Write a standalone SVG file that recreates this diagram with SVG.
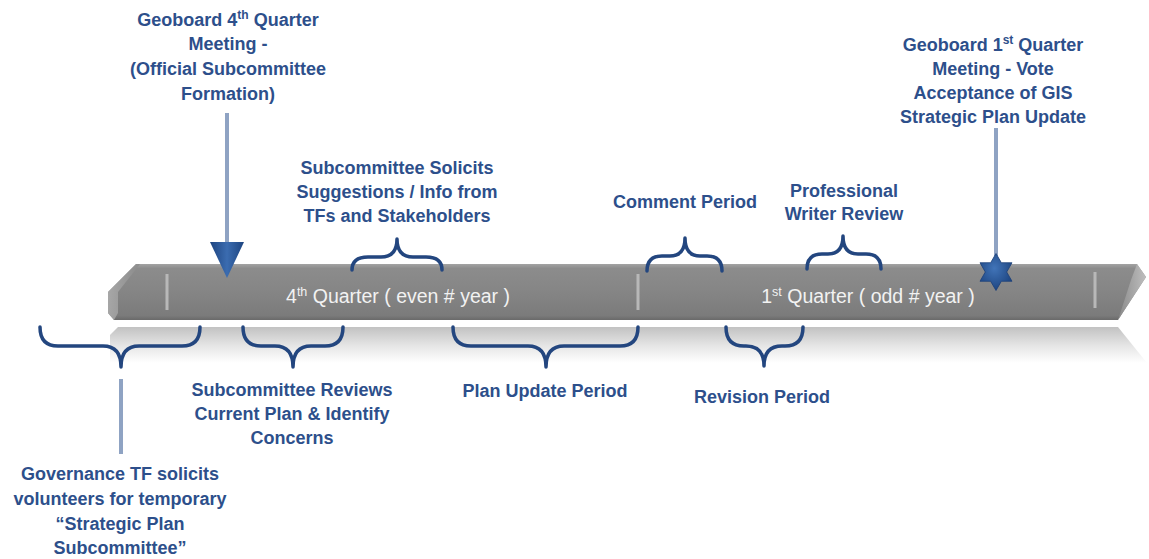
<svg xmlns="http://www.w3.org/2000/svg" width="1149" height="559" viewBox="0 0 1149 559">
<defs>
<linearGradient id="barG" x1="0" y1="0" x2="0" y2="1">
<stop offset="0" stop-color="#a3a3a3"/>
<stop offset="0.08" stop-color="#8c8c8c"/>
<stop offset="0.5" stop-color="#858585"/>
<stop offset="0.92" stop-color="#7b7b7b"/>
<stop offset="1" stop-color="#6a6a6a"/>
</linearGradient>
<linearGradient id="refG" x1="0" y1="0" x2="0" y2="1">
<stop offset="0" stop-color="#c2c2c2"/>
<stop offset="0.5" stop-color="#e4e4e4"/>
<stop offset="1" stop-color="#ffffff"/>
</linearGradient>
<linearGradient id="facetL" x1="0" y1="0" x2="1" y2="0">
<stop offset="0" stop-color="#b0b0b0"/>
<stop offset="1" stop-color="#8a8a8a"/>
</linearGradient>
<linearGradient id="facetR" x1="0" y1="0" x2="1" y2="0">
<stop offset="0" stop-color="#8c8c8c"/>
<stop offset="1" stop-color="#c4c4c4"/>
</linearGradient>
<linearGradient id="blueG" x1="0" y1="0" x2="1" y2="0">
<stop offset="0" stop-color="#1d4480"/>
<stop offset="0.5" stop-color="#3b6cb0"/>
<stop offset="1" stop-color="#1d4480"/>
</linearGradient>
<radialGradient id="starG" cx="0.45" cy="0.4" r="0.6">
<stop offset="0" stop-color="#4174b8"/>
<stop offset="1" stop-color="#1e4682"/>
</radialGradient>
</defs>
<style>
.lbl{font-family:"Liberation Sans",Arial,sans-serif;font-weight:bold;font-size:18px;fill:#2d4f8b;text-anchor:middle}
.bar{font-family:"Liberation Sans",Arial,sans-serif;font-size:19.5px;fill:#f2f2f2;text-anchor:middle}
.brace{fill:none;stroke:#23467f;stroke-width:3.5;stroke-linecap:round;stroke-linejoin:round}
.lead{stroke:#8fa3c3;stroke-width:4;fill:none}
.tick{stroke:#b8b8b8;stroke-width:3}
</style>

<g id="timeline">
<polygon points="118,327 1118,327 1147,363 110,363 110,335" fill="url(#refG)"/>
<path d="M136,264 L1137,264 L1146,277 L1118,320 L114,320 L108,313 L108,292 Z" fill="url(#barG)"/>
<polygon points="108,292 136,264 140,264 118,292 118,313 114,320 108,313" fill="url(#facetL)" opacity="0.8"/>
<polygon points="1137,264 1146,277 1118,320 1131,280" fill="url(#facetR)" opacity="0.9"/>
<line class="tick" x1="167" y1="274" x2="167" y2="310"/>
<line class="tick" x1="638" y1="274" x2="638" y2="310"/>
<line class="tick" x1="1095" y1="272" x2="1095" y2="308"/>
<text class="bar" x="398" y="303">4<tspan font-size="12.5" dy="-7">th</tspan><tspan dy="7"> Quarter ( even # year )</tspan></text>
<text class="bar" x="868" y="303">1<tspan font-size="12.5" dy="-7">st</tspan><tspan dy="7"> Quarter ( odd # year )</tspan></text>
</g>

<g id="connectors">
<line class="lead" x1="227" y1="113" x2="227" y2="244"/>
<line class="lead" x1="996" y1="128" x2="996" y2="256"/>
<line class="lead" x1="121" y1="379" x2="121" y2="454"/>
<path class="brace" d="M352,270 Q352,257 368,257 L381,257 Q397,257 397,239 Q397,257 413,257 L426,257 Q442,257 442,270"/>
<path class="brace" d="M647,271 Q647,256 662,256 L670,256 Q685,256 685,238 Q685,256 700,256 L707,256 Q722,256 722,271"/>
<path class="brace" d="M807,269 Q807,254 822,254 L828,254 Q843,254 843,236 Q843,254 858,254 L866,254 Q881,254 881,269"/>
<path class="brace" d="M40,327 Q40,346 58,346 L103,346 Q121,346 121,367 Q121,346 139,346 L182,346 Q200,346 200,327"/>
<path class="brace" d="M243,327 Q243,346 261,346 L275,346 Q293,346 293,367 Q293,346 311,346 L325,346 Q343,346 343,327"/>
<path class="brace" d="M453,327 Q453,346 471,346 L528,346 Q546,346 546,367 Q546,346 564,346 L620,346 Q638,346 638,327"/>
<path class="brace" d="M726,327 Q726,346 744,346 L746,346 Q764,346 764,366 Q764,346 782,346 L785,346 Q803,346 803,327"/>
</g>

<g id="arrow-q4">
<polygon points="210,242 244,242 227,278" fill="url(#blueG)"/>
</g>
<g id="star-q1">
<polygon points="996,253.5 1001.35,262.73 1012,262.75 1006.7,272 1012,281.25 1001.35,281.27 996,290.5 990.65,281.27 980,281.25 985.3,272 980,262.75 990.65,262.73" fill="url(#starG)" stroke="#1b3f78" stroke-width="0.8"/>
</g>

<g id="n-geoboard4">
<text class="lbl" x="228" y="26">Geoboard 4<tspan font-size="12" dy="-7">th</tspan><tspan dy="7"> Quarter</tspan></text>
<text class="lbl" x="228" y="50">Meeting -</text>
<text class="lbl" x="228" y="75">(Official Subcommittee</text>
<text class="lbl" x="228" y="100">Formation)</text>
</g>
<g id="n-solicits">
<text class="lbl" x="397" y="174">Subcommittee Solicits</text>
<text class="lbl" x="397" y="198">Suggestions / Info from</text>
<text class="lbl" x="397" y="222">TFs and Stakeholders</text>
</g>
<g id="n-comment">
<text class="lbl" x="685" y="208">Comment Period</text>
</g>
<g id="n-writer">
<text class="lbl" x="844" y="197">Professional</text>
<text class="lbl" x="844" y="220">Writer Review</text>
</g>
<g id="n-geoboard1">
<text class="lbl" x="993" y="51">Geoboard 1<tspan font-size="12" dy="-7">st</tspan><tspan dy="7"> Quarter</tspan></text>
<text class="lbl" x="993" y="75">Meeting - Vote</text>
<text class="lbl" x="993" y="99">Acceptance of GIS</text>
<text class="lbl" x="993" y="123">Strategic Plan Update</text>
</g>
<g id="n-reviews">
<text class="lbl" x="292" y="396">Subcommittee Reviews</text>
<text class="lbl" x="292" y="420">Current Plan &amp; Identify</text>
<text class="lbl" x="292" y="444">Concerns</text>
</g>
<g id="n-planupdate">
<text class="lbl" x="545" y="397">Plan Update Period</text>
</g>
<g id="n-revision">
<text class="lbl" x="762" y="403">Revision Period</text>
</g>
<g id="n-governance">
<text class="lbl" x="120" y="480">Governance TF solicits</text>
<text class="lbl" x="120" y="505">volunteers for temporary</text>
<text class="lbl" x="120" y="530">“Strategic Plan</text>
<text class="lbl" x="120" y="554">Subcommittee”</text>
</g>
</svg>
